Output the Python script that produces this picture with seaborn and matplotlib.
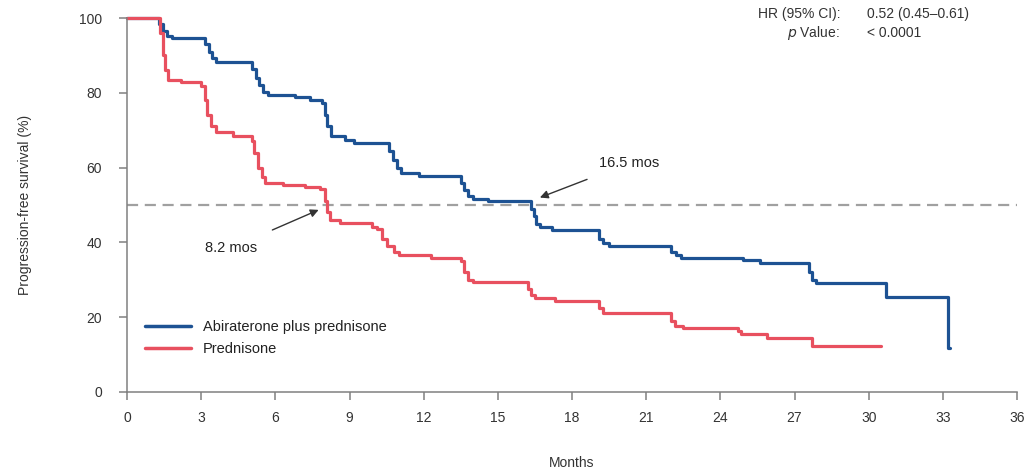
import matplotlib
matplotlib.use("Agg")
import matplotlib.pyplot as plt
import seaborn as sns
import pandas as pd

# ---- data ----
abi_months = [0, 1.3, 1.45, 1.6, 1.8, 3.15, 3.3, 3.45, 3.6, 5.05, 5.2, 5.35, 5.5, 5.7,
              6.8, 7.4, 7.9, 8.0, 8.1, 8.25, 8.8, 9.2, 10.6, 10.75, 10.9, 11.1, 11.8,
              13.5, 13.65, 13.8, 14.0, 14.6, 16.35, 16.45, 16.55, 16.7, 17.2, 19.1,
              19.25, 19.5, 22.0, 22.2, 22.4, 24.9, 25.6, 27.6, 27.7, 27.85, 30.7, 33.2, 33.3]
abi_surv = [100, 98.5, 96.5, 95.2, 94.6, 93, 91, 89.3, 88.3, 86.5, 84, 82, 80.3, 79.4,
            78.8, 78.2, 77.3, 74, 71, 68.5, 67.5, 66.5, 64.5, 62, 60, 58.5, 57.8,
            56, 54, 52.5, 51.5, 51.2, 49, 47, 45, 44.2, 43.3, 41,
            39.8, 39, 37.5, 36.5, 35.8, 35.2, 34.4, 32, 30, 29.1, 25.4, 11.8, 11.8]

pred_months = [0, 1.35, 1.45, 1.55, 1.65, 2.2, 3.0, 3.15, 3.25, 3.4, 3.6, 4.3, 5.05, 5.15,
               5.3, 5.45, 5.6, 6.3, 7.2, 7.8, 8.0, 8.1, 8.2, 8.6, 9.9, 10.1, 10.3, 10.5,
               10.8, 11.0, 12.3, 13.5, 13.65, 13.8, 14.0, 16.2, 16.35, 16.5, 17.3, 19.1,
               19.25, 22.0, 22.15, 22.5, 24.7, 24.85, 25.9, 27.7, 30.5]
pred_surv = [100, 96, 90, 86, 83.4, 82.8, 81.8, 78, 74, 71, 69.5, 68.5, 67.2, 64,
             60, 57.5, 56, 55.3, 54.8, 54.3, 51, 48, 46, 45.2, 44.2, 43.5, 41, 39,
             37.5, 36.6, 35.8, 35.0, 32, 30, 29.4, 27.5, 26, 25.1, 24.2, 22.5,
             21.1, 19, 17.6, 17.0, 16.4, 15.5, 14.5, 12.4, 12.3]

series_names = ["Abiraterone plus prednisone", "Prednisone"]
x_ticks = list(range(0, 37, 3))
y_ticks = [0, 20, 40, 60, 80, 100]
median_abi = 16.5
median_pred = 8.2

df = pd.concat([
    pd.DataFrame({"Months": abi_months, "PFS": abi_surv, "Arm": series_names[0]}),
    pd.DataFrame({"Months": pred_months, "PFS": pred_surv, "Arm": series_names[1]}),
])

sns.set_style("ticks")
plt.rcParams["font.family"] = ["Liberation Sans", "DejaVu Sans"]

fig = plt.figure(figsize=(10.33, 4.74), dpi=100)
ax = fig.add_axes([0.123, 0.173, 0.8615, 0.789])

palette = {series_names[0]: "#1d5293", series_names[1]: "#e8505f"}
sns.lineplot(data=df, x="Months", y="PFS", hue="Arm", palette=palette,
             drawstyle="steps-post", linewidth=2.3, ax=ax, estimator=None,
             sort=False, legend=True)
for ln in ax.lines:
    ln.set_clip_on(False)

ax.axhline(50, color="#a0a0a0", linestyle=(0, (5, 3)), linewidth=1.6, zorder=0)

ax.set_xlim(0, 36)
ax.set_ylim(0, 100)
ax.set_xticks(x_ticks)
ax.set_yticks(y_ticks)
for s in ["top", "right"]:
    ax.spines[s].set_visible(False)
for s in ["left", "bottom"]:
    ax.spines[s].set_color("#808080")
    ax.spines[s].set_linewidth(1.1)
ax.tick_params(axis="both", colors="#808080", labelcolor="#333333",
               labelsize=10, length=6, width=1.1)
ax.tick_params(axis="x", pad=8)
ax.tick_params(axis="y", pad=12)

ax.set_xlabel("Months", fontsize=10, color="#333333", labelpad=22)
ax.set_ylabel("Progression-free survival (%)", fontsize=10, color="#333333", labelpad=34)

leg = ax.legend(loc="lower left", bbox_to_anchor=(0.005, 0.06), frameon=False,
                fontsize=10.5, handlelength=3.2, labelspacing=0.6)
for h in leg.get_lines():
    h.set_linewidth(2.5)
for t in leg.get_texts():
    t.set_color("#222222")

ax.annotate("16.5 mos", xy=(16.7, 52), xytext=(19.1, 61.2),
            fontsize=10.5, color="#222222", va="center", ha="left",
            arrowprops=dict(arrowstyle="-|>", color="#333333", lw=1.0,
                            shrinkA=12, shrinkB=0, mutation_scale=12))
ax.annotate("8.2 mos", xy=(7.75, 48.7), xytext=(4.2, 38.5),
            fontsize=10.5, color="#222222", va="center", ha="center",
            arrowprops=dict(arrowstyle="-|>", color="#333333", lw=1.0,
                            shrinkA=14, shrinkB=0, mutation_scale=12))

fig.text(840 / 1033, 1 - 14 / 474, "HR (95% CI):", ha="right", va="center",
         fontsize=10, color="#333333")
fig.text(867 / 1033, 1 - 14 / 474, "0.52 (0.45\u20130.61)", ha="left", va="center",
         fontsize=10, color="#333333")
fig.text(840 / 1033, 1 - 33 / 474, r"$p$ Value:", ha="right", va="center",
         fontsize=10, color="#333333")
fig.text(867 / 1033, 1 - 33 / 474, "< 0.0001", ha="left", va="center",
         fontsize=10, color="#333333")

fig.savefig("out.png", dpi=100)
